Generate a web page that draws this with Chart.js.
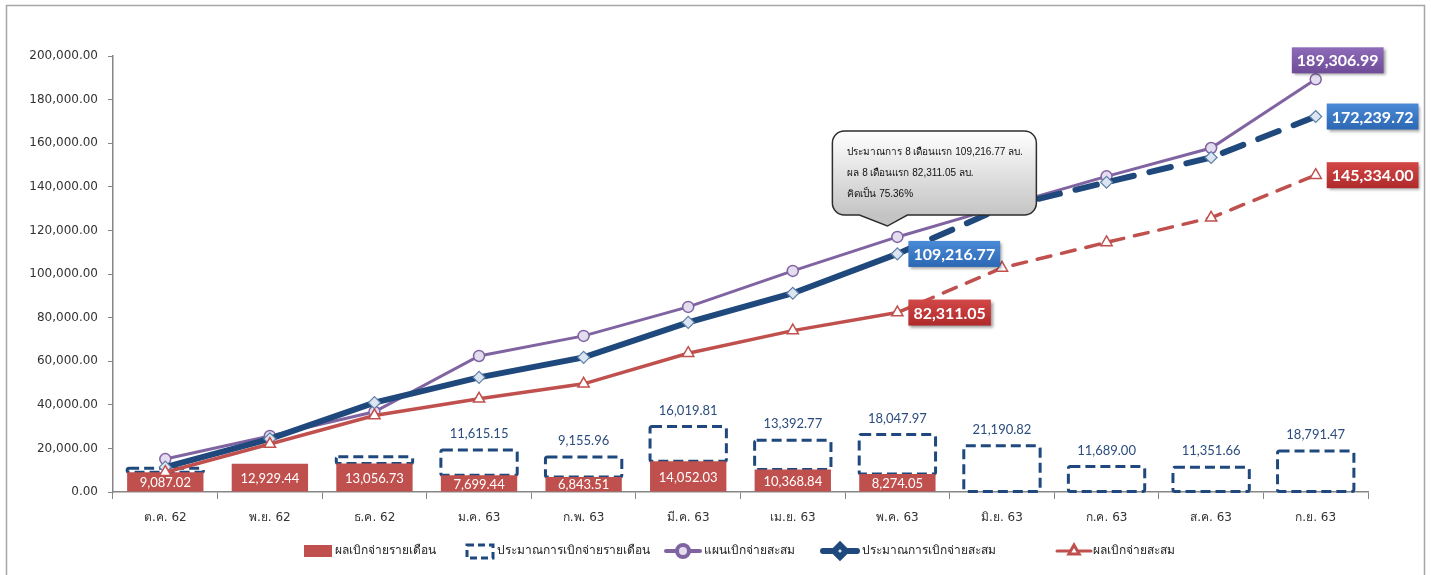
<!DOCTYPE html>
<html>
<head>
<meta charset="utf-8">
<script src="https://cdn.jsdelivr.net/npm/chart.js@4.4.0/dist/chart.umd.min.js"></script>
<style>
html, body { margin: 0; padding: 0; background: #fff; }
#wrap { width: 1431px; height: 575px; }
</style>
</head>
<body>
<div id="wrap"><canvas id="chart"></canvas></div>
<script>
// ---- data ----
var months = ['ต.ค. 62', 'พ.ย. 62', 'ธ.ค. 62', 'ม.ค. 63', 'ก.พ. 63', 'มี.ค. 63', 'เม.ย. 63', 'พ.ค. 63', 'มิ.ย. 63', 'ก.ค. 63', 'ส.ค. 63', 'ก.ย. 63'];
var actualMonthly = [9087.02, 12929.44, 13056.73, 7699.44, 6843.51, 14052.03, 10368.84, 8274.05, 0, 0, 0, 0];
var estimateMonthly = [1800, 0, 3150, 11615.15, 9155.96, 16019.81, 13392.77, 18047.97, 21190.82, 11689.00, 11351.66, 18791.47];
var showEstimateLabel = [false, false, false, true, true, true, true, true, true, true, true, true];
var showActualLabel = [true, true, true, true, true, true, true, true, false, false, false, false];
var planCum = [15100, 25700, 36800, 62400, 71600, 84900, 101400, 117000, 131000, 144800, 157800, 189306.99];
var estimateCum = [11400, 24400, 40985.11, 52600.26, 61756.22, 77776.03, 91168.80, 109216.77, 130407.59, 142096.59, 153448.25, 172239.72];
var actualCum = [9087.02, 22016.46, 35073.19, 42772.63, 49616.14, 63668.17, 74037.01, 82311.05, 102800, 114500, 125800, 145334.00];
var yTicks = [0, 20000, 40000, 60000, 80000, 100000, 120000, 140000, 160000, 180000, 200000];
var lastActualIndex = 7;

var seriesNames = ['ผลเบิกจ่ายรายเดือน', 'ประมาณการเบิกจ่ายรายเดือน', 'แผนเบิกจ่ายสะสม', 'ประมาณการเบิกจ่ายสะสม', 'ผลเบิกจ่ายสะสม'];
var noteLines = ['ประมาณการ 8 เดือนแรก 109,216.77 ลบ.', 'ผล 8 เดือนแรก 82,311.05 ลบ.', 'คิดเป็น 75.36%'];

var FONT = "Tahoma, 'DejaVu Sans', sans-serif";
var NUMFONT = "Lato, 'Liberation Sans', sans-serif";
var RED = '#C0504D', BLUE = '#1F497D', PURPLE = '#8064A2';

function fmt(v) {
    return v.toLocaleString('en-US', { minimumFractionDigits: 2, maximumFractionDigits: 2 });
}

function futureDash(dash) {
    return function(ctx) {
        return ctx.p0DataIndex >= lastActualIndex ? dash : undefined;
    };
}

// value boxes at the ends of the lines: [dataset, index, side, colours]
var valueBoxes = [
    [3, 7, 'right', '#4A8AD6', '#2C68B4'],
    [4, 7, 'right', '#D24746', '#B02A2B'],
    [2, 11, 'top', '#8E6BB8', '#6E4C98'],
    [3, 11, 'right', '#4A8AD6', '#2C68B4'],
    [4, 11, 'right', '#D24746', '#B02A2B']
];

function roundRect(ctx, x, y, w, h, r) {
    ctx.beginPath();
    ctx.moveTo(x + r, y);
    ctx.lineTo(x + w - r, y);
    ctx.arcTo(x + w, y, x + w, y + r, r);
    ctx.lineTo(x + w, y + h - r);
    ctx.arcTo(x + w, y + h, x + w - r, y + h, r);
    ctx.lineTo(x + r, y + h);
    ctx.arcTo(x, y + h, x, y + h - r, r);
    ctx.lineTo(x, y + r);
    ctx.arcTo(x, y, x + r, y, r);
    ctx.closePath();
}

var decorPlugin = {
    id: 'decor',
    beforeDraw: function(chart) {
        var ctx = chart.ctx;
        ctx.save();
        ctx.fillStyle = '#fff';
        ctx.fillRect(0, 0, chart.width, chart.height);
        ctx.strokeStyle = '#A6A6A6';
        ctx.lineWidth = 1.5;
        ctx.strokeRect(6.5, 5.5, 1418, 600);
        ctx.restore();
    },
    afterDatasetDraw: function(chart, args) {
        if (args.index !== 1) return;
        // dashed outline of the monthly estimate bars
        var ctx = chart.ctx;
        var meta = chart.getDatasetMeta(1);
        ctx.save();
        ctx.strokeStyle = BLUE;
        ctx.lineWidth = 3;
        ctx.setLineDash([10, 5]);
        meta.data.forEach(function(bar, i) {
            if (!estimateMonthly[i]) return;
            var p = bar.getProps(['x', 'y', 'base', 'width'], true);
            var left = p.x - p.width / 2;
            roundRect(ctx, left, p.y, p.width, p.base - p.y, 2);
            ctx.stroke();
        });
        ctx.restore();
    },
    afterDatasetsDraw: function(chart) {
        var ctx = chart.ctx;
        ctx.save();
        ctx.textAlign = 'center';
        ctx.textBaseline = 'middle';
        ctx.font = '13px ' + NUMFONT;

        // labels inside red bars
        ctx.fillStyle = '#fff';
        chart.getDatasetMeta(0).data.forEach(function(bar, i) {
            if (!showActualLabel[i]) return;
            var p = bar.getProps(['x', 'y', 'base'], true);
            ctx.fillText(fmt(actualMonthly[i]), p.x, (p.y + p.base) / 2 + 1);
        });
        // labels above dashed bars
        ctx.fillStyle = '#2B4C7E';
        chart.getDatasetMeta(1).data.forEach(function(bar, i) {
            if (!showEstimateLabel[i]) return;
            var p = bar.getProps(['x', 'y'], true);
            ctx.fillText(fmt(estimateMonthly[i]), p.x, p.y - 16);
        });

        // coloured value boxes
        ctx.font = 'bold 16px ' + NUMFONT;
        valueBoxes.forEach(function(b) {
            var pt = chart.getDatasetMeta(b[0]).data[b[1]];
            var value = chart.data.datasets[b[0]].data[b[1]];
            var text = fmt(value);
            var w = ctx.measureText(text).width + 10, h = 26;
            var x, y;
            if (b[2] === 'top') {
                x = pt.x + 22 - w / 2;
                y = pt.y - 6 - h;
            } else {
                x = pt.x + 11;
                y = pt.y - h / 2;
            }
            var g = ctx.createLinearGradient(0, y, 0, y + h);
            g.addColorStop(0, b[3]);
            g.addColorStop(1, b[4]);
            ctx.save();
            ctx.shadowColor = 'rgba(0,0,0,0.4)';
            ctx.shadowOffsetX = 2;
            ctx.shadowOffsetY = 2;
            ctx.shadowBlur = 3;
            ctx.fillStyle = g;
            ctx.fillRect(x, y, w, h);
            ctx.restore();
            ctx.fillStyle = '#fff';
            ctx.fillText(text, x + w / 2, y + h / 2 + 1);
        });

        // callout note
        var xs = chart.scales.x, ys = chart.scales.y;
        var tipX = xs.getPixelForValue(7) - 10;
        var tipY = ys.getPixelForValue(122000);
        var bx = tipX - 55, by = tipY - 95, bw = 204, bh = 84;
        var g2 = ctx.createLinearGradient(0, by, 0, by + bh);
        g2.addColorStop(0, '#FFFFFF');
        g2.addColorStop(1, '#C4C4C4');
        ctx.beginPath();
        ctx.moveTo(bx + 12, by);
        ctx.lineTo(bx + bw - 12, by);
        ctx.arcTo(bx + bw, by, bx + bw, by + 12, 12);
        ctx.lineTo(bx + bw, by + bh - 12);
        ctx.arcTo(bx + bw, by + bh, bx + bw - 12, by + bh, 12);
        ctx.lineTo(tipX + 20, by + bh);
        ctx.lineTo(tipX, tipY);
        ctx.lineTo(tipX - 28, by + bh);
        ctx.lineTo(bx + 12, by + bh);
        ctx.arcTo(bx, by + bh, bx, by + bh - 12, 12);
        ctx.lineTo(bx, by + 12);
        ctx.arcTo(bx, by, bx + 12, by, 12);
        ctx.closePath();
        ctx.fillStyle = g2;
        ctx.fill();
        ctx.strokeStyle = '#2E2E2E';
        ctx.lineWidth = 1.5;
        ctx.stroke();
        ctx.fillStyle = '#111';
        ctx.font = "10px 'Liberation Sans', sans-serif";
        ctx.textAlign = 'left';
        noteLines.forEach(function(line, i) {
            ctx.fillText(line, bx + 15, by + 21 + i * 21);
        });
        ctx.restore();
    },
    afterDraw: function(chart) {
        // legend
        var ctx = chart.ctx;
        var y = 551;
        ctx.save();
        ctx.font = '12px ' + FONT;
        ctx.textBaseline = 'middle';
        ctx.textAlign = 'left';
        ctx.fillStyle = '#222';

        ctx.fillStyle = RED;
        ctx.fillRect(304, y - 6, 28, 12);
        ctx.fillStyle = '#222';
        ctx.fillText(seriesNames[0], 335, y);

        ctx.strokeStyle = BLUE;
        ctx.lineWidth = 3;
        ctx.setLineDash([7, 4]);
        ctx.strokeRect(467, y - 6, 26, 13);
        ctx.setLineDash([]);
        ctx.fillText(seriesNames[1], 497, y);

        function lineKey(x, color, width, style) {
            ctx.strokeStyle = color;
            ctx.lineWidth = width;
            ctx.lineCap = 'round';
            ctx.beginPath();
            ctx.moveTo(x, y);
            ctx.lineTo(x + 34, y);
            ctx.stroke();
            Chart.helpers.drawPoint(ctx, { pointStyle: style, radius: 6, borderWidth: 1.5 }, x + 17, y);
        }
        ctx.fillStyle = '#E4DCEF';
        lineKey(666, PURPLE, 4, 'circle');
        ctx.fillStyle = '#222';
        ctx.fillText(seriesNames[2], 704, y);

        ctx.fillStyle = '#DCE6F2';
        lineKey(823, BLUE, 6, 'rectRot');
        ctx.fillStyle = '#222';
        ctx.fillText(seriesNames[3], 862, y);

        ctx.fillStyle = '#fff';
        lineKey(1057, RED, 3, 'triangle');
        ctx.fillStyle = '#222';
        ctx.fillText(seriesNames[4], 1093, y);
        ctx.restore();
    }
};

var config = {
    type: 'bar',
    data: {
        labels: months,
        datasets: [{
            label: seriesNames[0],
            data: actualMonthly,
            backgroundColor: RED,
            stack: 'bars',
            order: 9,
            barPercentage: 0.73,
            categoryPercentage: 1
        }, {
            label: seriesNames[1],
            data: estimateMonthly,
            backgroundColor: 'rgba(0,0,0,0)',
            stack: 'bars',
            order: 10,
            barPercentage: 0.73,
            categoryPercentage: 1
        }, {
            type: 'line',
            label: seriesNames[2],
            data: planCum,
            stack: 'l1',
            order: 3,
            borderColor: PURPLE,
            borderWidth: 3,
            pointStyle: 'circle',
            pointRadius: 5.5,
            pointBorderWidth: 1.5,
            pointBackgroundColor: '#E4DCEF',
            pointBorderColor: PURPLE,
            tension: 0
        }, {
            type: 'line',
            label: seriesNames[3],
            data: estimateCum,
            stack: 'l2',
            order: 2,
            borderColor: BLUE,
            borderWidth: 6,
            borderCapStyle: 'round',
            segment: { borderDash: futureDash([22, 16]) },
            pointStyle: 'rectRot',
            pointRadius: 6,
            pointBorderWidth: 1.2,
            pointBackgroundColor: '#DCE6F2',
            pointBorderColor: '#5E7FA8',
            tension: 0
        }, {
            type: 'line',
            label: seriesNames[4],
            data: actualCum,
            stack: 'l3',
            order: 1,
            borderColor: RED,
            borderWidth: 3.5,
            borderCapStyle: 'round',
            segment: { borderDash: futureDash([14, 11]) },
            pointStyle: 'triangle',
            pointRadius: 6.5,
            pointBorderWidth: 1.5,
            pointBackgroundColor: '#fff',
            pointBorderColor: RED,
            tension: 0
        }]
    },
    options: {
        responsive: true,
        maintainAspectRatio: false,
        animation: false,
        layout: { padding: { left: 10, right: 63, top: 56, bottom: 43 } },
        plugins: {
            legend: { display: false },
            tooltip: { enabled: false },
            title: { display: false }
        },
        scales: {
            x: {
                stacked: true,
                grid: { offset: true, drawOnChartArea: false, tickLength: 7, color: '#868686' },
                border: { color: '#868686', width: 1.5 },
                ticks: { color: '#333', font: { size: 12, family: FONT }, padding: 12 },
                afterFit: function(s) { s.height = 40; }
            },
            y: {
                stacked: true,
                min: 0,
                max: 200000,
                afterBuildTicks: function(s) { s.ticks = yTicks.map(function(v) { return { value: v }; }); },
                grid: { drawOnChartArea: false, tickLength: 5, color: '#868686' },
                border: { color: '#868686', width: 1.5 },
                ticks: {
                    color: '#333',
                    font: { size: 12, family: FONT },
                    padding: 10,
                    callback: function(v) { return fmt(v); }
                },
                afterFit: function(s) { s.width = 103; }
            }
        }
    },
    plugins: [decorPlugin]
};

var ctx = document.getElementById('chart').getContext('2d');
window.myChart = new Chart(ctx, config);
</script>
</body>
</html>
